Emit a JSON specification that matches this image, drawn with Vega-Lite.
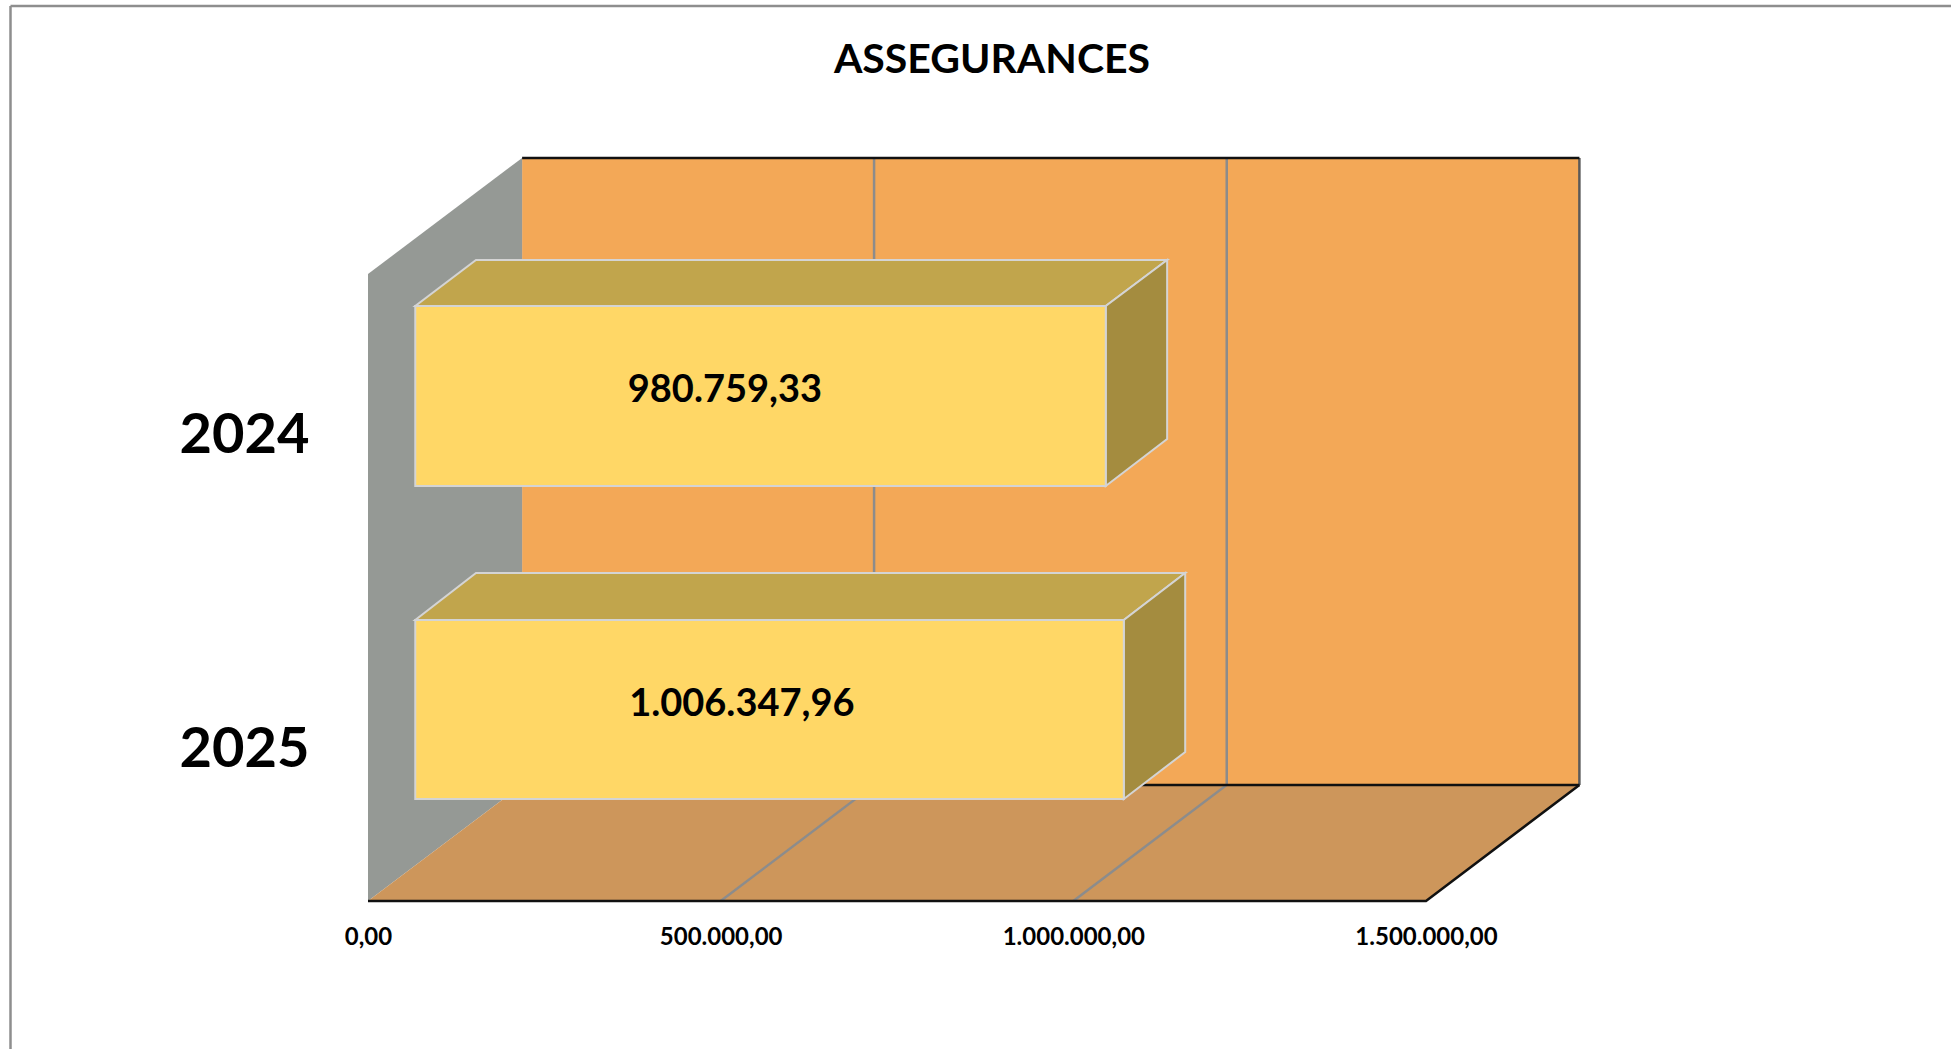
{
"$schema":"https://vega.github.io/schema/vega-lite/v6.json",
"width":1940,"height":1043,
"autosize":{"type":"none"},
"padding":{"left":11,"top":6,"right":0,"bottom":0},
"background":"#ffffff",
"config":{"view":{"stroke":null},"locale":{"number":{"decimal":",","thousands":".","grouping":[3],"currency":["","€"]}}},
"title":{"text":"ASSEGURANCES","font":"Lato","fontWeight":"bold","fontSize":41,"color":"#000000","anchor":"middle","frame":"group","dx":11,"dy":80.5,"offset":0},
"datasets":{
"surfaces":[
{"face":"wall","amount":218500,"level":116,"level2":743},
{"face":"wall","amount":1717500,"level":116,"level2":743},
{"face":"side wall","amount":0,"level":0,"level2":627},
{"face":"side wall","amount":218500,"level":116,"level2":743},
{"face":"floor","amount":0,"level":0,"level2":0},
{"face":"floor","amount":218500,"level":0,"level2":116},
{"face":"floor","amount":1500000,"level":0,"level2":116},
{"face":"floor","amount":1717500,"level":116,"level2":116}
],
"edges":[
{"edge":"frame left","kind":"frame","seq":1,"amount":-506850,"level":-148},
{"edge":"frame left","kind":"frame","seq":2,"amount":-506850,"level":895},
{"edge":"frame top","kind":"frame","seq":1,"amount":-506850,"level":895},
{"edge":"frame top","kind":"frame","seq":2,"amount":2245000,"level":895},
{"edge":"grid 500k","kind":"grid","seq":1,"amount":500000,"level":0},
{"edge":"grid 500k","kind":"grid","seq":2,"amount":717500,"level":116},
{"edge":"grid 500k","kind":"grid","seq":3,"amount":717500,"level":743},
{"edge":"grid 1M","kind":"grid","seq":1,"amount":1000000,"level":0},
{"edge":"grid 1M","kind":"grid","seq":2,"amount":1217500,"level":116},
{"edge":"grid 1M","kind":"grid","seq":3,"amount":1217500,"level":743},
{"edge":"wall right","kind":"dark","seq":1,"amount":1717500,"level":116},
{"edge":"wall right","kind":"dark","seq":2,"amount":1717500,"level":743},
{"edge":"wall top","kind":"outline","seq":1,"amount":218500,"level":743},
{"edge":"wall top","kind":"outline","seq":2,"amount":1717500,"level":743},
{"edge":"wall bottom","kind":"outline","seq":1,"amount":218500,"level":116},
{"edge":"wall bottom","kind":"outline","seq":2,"amount":1717500,"level":116},
{"edge":"floor","kind":"outline","seq":1,"amount":0,"level":0},
{"edge":"floor","kind":"outline","seq":2,"amount":1500000,"level":0},
{"edge":"floor","kind":"outline","seq":3,"amount":1717500,"level":116}
],
"bars":[
{"year":"2024","part":"top","amount":67000,"level":595,"level2":595},
{"year":"2024","part":"top","amount":153100,"level":595,"level2":641},
{"year":"2024","part":"top","amount":1045976,"level":595,"level2":641},
{"year":"2024","part":"top","amount":1133000,"level":641,"level2":641},
{"year":"2024","part":"side","amount":1045976,"level":415,"level2":595},
{"year":"2024","part":"side","amount":1133000,"level":462,"level2":641},
{"year":"2024","part":"front","amount":67000,"level":415,"level2":595},
{"year":"2024","part":"front","amount":1045976,"level":415,"level2":595},
{"year":"2025","part":"top","amount":67000,"level":281,"level2":281},
{"year":"2025","part":"top","amount":153100,"level":281,"level2":328},
{"year":"2025","part":"top","amount":1071565,"level":281,"level2":328},
{"year":"2025","part":"top","amount":1158600,"level":328,"level2":328},
{"year":"2025","part":"side","amount":1071565,"level":102,"level2":281},
{"year":"2025","part":"side","amount":1158600,"level":149,"level2":328},
{"year":"2025","part":"front","amount":67000,"level":102,"level2":281},
{"year":"2025","part":"front","amount":1071565,"level":102,"level2":281}
],
"labels":[
{"year":"2024","value":980759.33,"amount":506000,"level":510},
{"year":"2025","value":1006347.96,"amount":530000,"level":196}
]
},
"encoding":{
"x":{"field":"amount","type":"quantitative","title":null,
"scale":{"domain":[-506144,2244330],"nice":false,"zero":false},
"axis":{"orient":"bottom","offset":-148,"values":[0,500000,1000000,1500000],"format":",.2f","domain":false,"ticks":false,"grid":false,"labelFont":"Lato","labelFontWeight":"bold","labelFontSize":24,"labelColor":"#000000","labelPadding":24,"labelFlush":false,"labelOverlap":false}},
"y":{"field":"level","type":"quantitative","title":null,"stack":null,
"scale":{"domain":[-148,895],"nice":false,"zero":false},
"axis":{"orient":"left","offset":-357,"values":[152,466],"labelExpr":"datum.value == 466 ? '2024' : '2025'","domain":false,"ticks":false,"grid":false,"labelFont":"Lato","labelFontWeight":"bold","labelFontSize":56,"labelColor":"#000000","labelPadding":59,"labelFlush":false,"labelOverlap":false}}
},
"layer":[
{"data":{"name":"surfaces"},"mark":{"type":"area","orient":"vertical"},
 "encoding":{"y2":{"field":"level2"},
 "color":{"field":"face","type":"nominal","legend":null,"scale":{"domain":["wall","side wall","floor"],"range":["#F3A857","#959995","#CD965B"]}}}},
{"data":{"name":"edges"},"mark":{"type":"line","strokeWidth":2.5},
 "encoding":{"detail":{"field":"edge"},"order":{"field":"seq","type":"quantitative"},
 "stroke":{"field":"kind","type":"nominal","legend":null,"scale":{"domain":["frame","grid","dark","outline"],"range":["#8E8E8E","#8C8C8C","#5A5A5A","#111111"]}}}},
{"data":{"name":"bars"},"mark":{"type":"area","orient":"vertical","stroke":"#D4D4D4","strokeWidth":2},
 "encoding":{"y2":{"field":"level2"},"detail":{"field":"year"},
 "fill":{"field":"part","type":"nominal","legend":null,"scale":{"domain":["top","side","front"],"range":["#C1A54C","#A48C3F","#FFD766"]}}}},
{"data":{"name":"labels"},"mark":{"type":"text","font":"Lato","fontWeight":"bold","fontSize":38,"color":"#000000","align":"center","baseline":"middle"},
 "encoding":{"text":{"field":"value","type":"quantitative","format":",.2f"}}}
]
}
